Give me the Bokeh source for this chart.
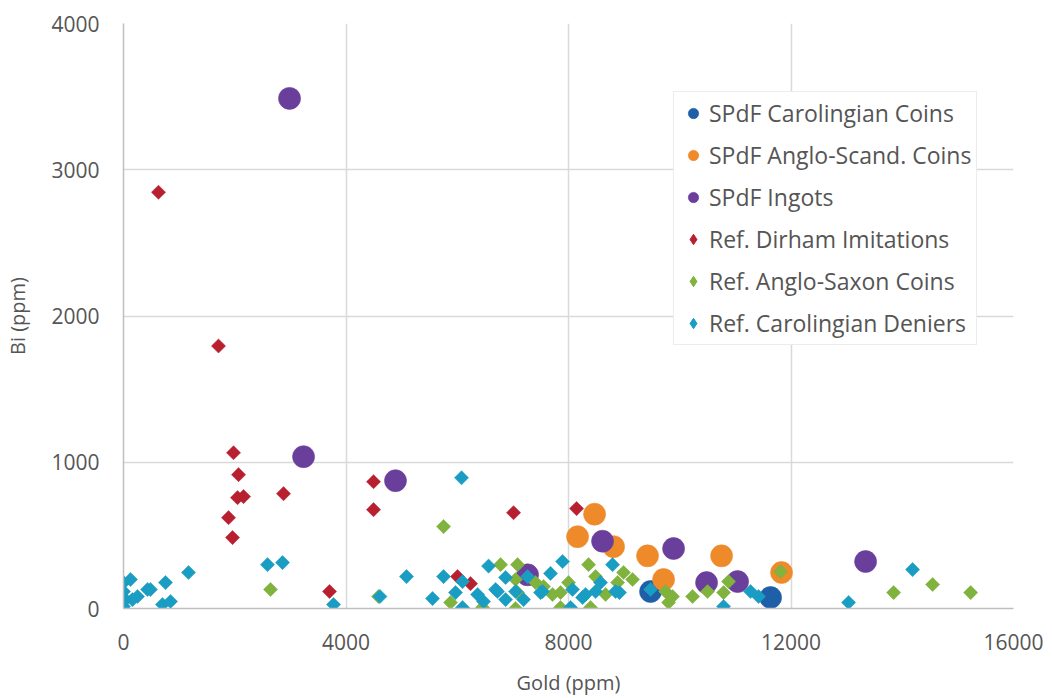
import math
from bokeh.plotting import figure
from bokeh.models import Range1d, FixedTicker, Legend, LegendItem
from bokeh.embed import file_html
from bokeh.resources import INLINE

# ---- data ----
carolingian_gold = [9475, 11633]
carolingian_bi = [116, 75]

anglo_scand_gold = [8163, 8469, 8810, 9421, 9709, 10752, 11830]
anglo_scand_bi = [491, 645, 423, 360, 198, 360, 246]

ingots_gold = [2985, 3237, 4890, 7264, 8612, 9889, 10482, 11040, 13341]
ingots_bi = [3488, 1038, 874, 230, 460, 410, 177, 184, 321]

dirham_gold = [629, 1708, 1978, 2068, 2050, 2158, 2877, 1888, 1960, 3704, 4495, 4495, 6005, 6239, 7012, 8145]
dirham_bi = [2846, 1795, 1065, 915, 758, 765, 785, 621, 485, 116, 867, 676, 218, 170, 655, 683]

anglo_saxon_gold = [2643, 4585, 5754, 5880, 6455, 6779, 7048, 7084, 7048, 7084, 7408, 7552, 7713, 7857,
                    7857, 8001, 8361, 8487, 8667, 8397, 8883, 8990, 9152, 9745, 9871, 9799, 10231,
                    10500, 10788, 10878, 11813, 13845, 14546, 15230]
anglo_saxon_bi = [130, 82, 560, 41, 7, 300, 198, 109, 0, 300, 177, 150, 96, 109,
                  7, 177, 300, 218, 96, 7, 177, 246, 198, 116, 82, 41, 82,
                  116, 109, 184, 253, 109, 164, 109]

deniers_gold = [0, 36, 0, 0, 126, 162, 252, 432, 485, 755, 701, 845, 1169, 2589, 2859, 3776, 4610,
                5088, 5556, 5754, 5969, 6077, 6095, 6095, 6365, 6473, 6563, 6689, 6725, 6869, 6869,
                7048, 7192, 7264, 7497, 7534, 7677, 7893, 8073, 8037, 8253, 8307, 8487, 8577,
                8792, 8846, 8917, 9475, 10788, 11273, 11417, 13036, 14186]
deniers_bi = [14, 61, 116, 177, 198, 61, 82, 130, 130, 177, 27, 48, 246, 300, 314, 27, 82,
              218, 68, 218, 109, 894, 7, 184, 96, 48, 290, 130, 116, 212, 61,
              116, 61, 218, 109, 116, 240, 321, 130, 7, 75, 96, 116, 177,
              300, 116, 109, 130, 14, 116, 82, 41, 266]

x_ticks = [0, 4000, 8000, 12000, 16000]
y_ticks = [0, 1000, 2000, 3000, 4000]

labels = ["SPdF Carolingian Coins", "SPdF Anglo-Scand. Coins", "SPdF Ingots",
          "Ref. Dirham Imitations", "Ref. Anglo-Saxon Coins", "Ref. Carolingian Deniers"]
colors = ["#1f5fa8", "#ef8a2b", "#6a3f9c", "#b8202f", "#80b23e", "#1a9dc2"]

FONT = "Open Sans"
TXT = "#555555"

p = figure(width=1052, height=698, output_backend="svg", toolbar_location=None,
           x_range=Range1d(0, 16000), y_range=Range1d(0, 4000),
           min_border_left=123, min_border_right=39, min_border_top=23, min_border_bottom=89)
p.outline_line_color = None
p.background_fill_color = "white"
p.border_fill_color = "white"

for ax in (p.xaxis[0], p.yaxis[0]):
    ax.axis_line_color = "#bfbfbf"
    ax.axis_line_width = 1.5
    ax.major_tick_line_color = "#bfbfbf"
    ax.major_tick_out = 0
    ax.major_tick_in = 0
    ax.minor_tick_line_color = None
    ax.major_label_text_font = FONT
    ax.major_label_text_font_size = "21px"
    ax.major_label_text_color = TXT
    ax.axis_label_text_font = FONT
    ax.axis_label_text_font_size = "20px"
    ax.axis_label_text_color = TXT
    ax.axis_label_text_font_style = "normal"

p.xaxis.ticker = FixedTicker(ticks=x_ticks)
p.yaxis.ticker = FixedTicker(ticks=y_ticks)
p.xaxis.axis_label = "Gold (ppm)"
p.yaxis.axis_label = "Bi (ppm)"
p.xaxis.major_label_standoff = 25
p.yaxis.major_label_standoff = 24
p.xaxis.axis_label_standoff = 16
p.yaxis.axis_label_standoff = 17

p.xgrid.grid_line_color = "#d9d9d9"
p.ygrid.grid_line_color = "#d9d9d9"
p.xgrid.grid_line_width = 1.5
p.ygrid.grid_line_width = 1.5

r_car = p.scatter(carolingian_gold, carolingian_bi, marker="circle", size=22,
                  fill_color=colors[0], line_color=colors[0], line_alpha=0.6)
r_ang = p.scatter(anglo_scand_gold, anglo_scand_bi, marker="circle", size=22,
                  fill_color=colors[1], line_color=colors[1], line_alpha=0.6)
r_ing = p.scatter(ingots_gold, ingots_bi, marker="circle", size=22,
                  fill_color=colors[2], line_color=colors[2], line_alpha=0.6)
ang = math.pi / 4
r_dir = p.scatter(dirham_gold, dirham_bi, marker="square", size=10, angle=ang,
                  fill_color=colors[3], line_color=colors[3], line_alpha=0.5)
r_as = p.scatter(anglo_saxon_gold, anglo_saxon_bi, marker="square", size=10, angle=ang,
                 fill_color=colors[4], line_color=colors[4], line_alpha=0.5)
r_den = p.scatter(deniers_gold, deniers_bi, marker="square", size=10, angle=ang,
                  fill_color=colors[5], line_color=colors[5], line_alpha=0.5)

# legend-only glyphs (diamond shapes, as in the reference legend); NaN point is never drawn
nan = float("nan")
leg_r = []
for i in range(3, 6):
    leg_r.append(p.scatter([nan], [nan], marker="diamond", size=10,
                           fill_color=colors[i], line_color=colors[i]))

renderers = [r_car, r_ang, r_ing] + leg_r
legend = Legend(items=[LegendItem(label=l, renderers=[r]) for l, r in zip(labels, renderers)],
                location=(550, 263))
legend.label_text_font = FONT
legend.label_text_font_size = "23px"
legend.label_text_color = TXT
legend.glyph_height = 26
legend.glyph_width = 28
legend.label_height = 26
legend.spacing = 10
legend.padding = 5
legend.margin = 0
legend.label_standoff = 2
legend.border_line_color = "#d9d9d9"
legend.border_line_width = 1.5
legend.background_fill_color = "white"
legend.background_fill_alpha = 1
p.add_layout(legend, "center")

open("out.html", "w").write(file_html(p, INLINE))
